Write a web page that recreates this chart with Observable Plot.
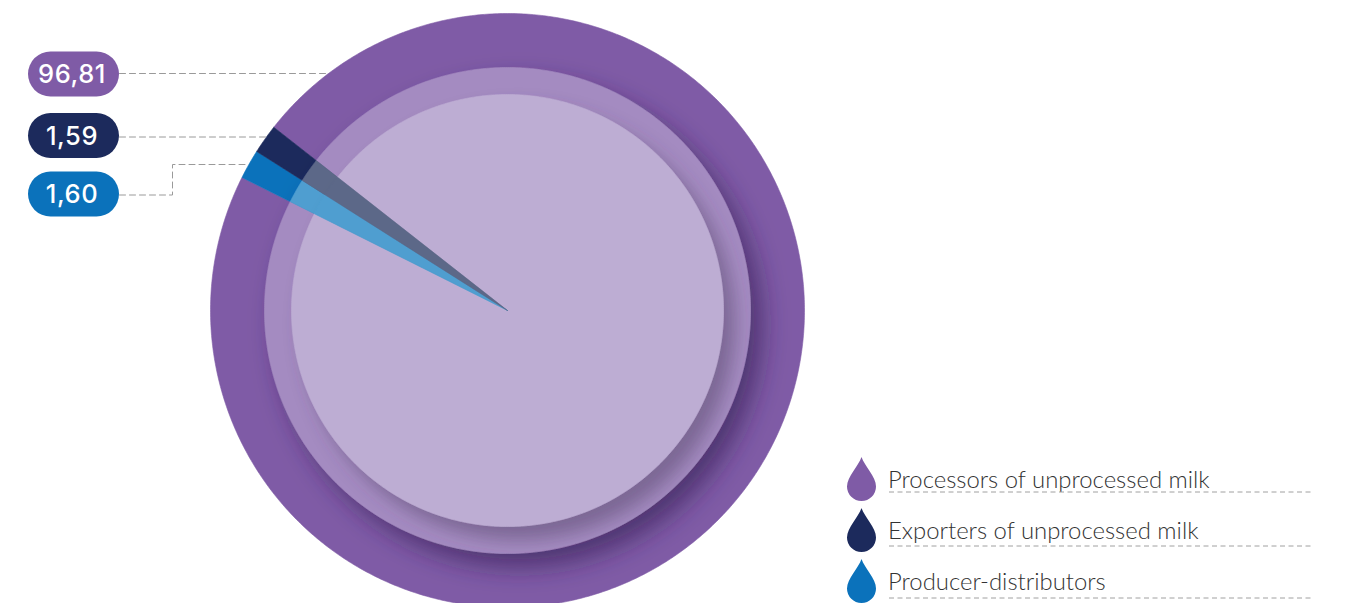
<!DOCTYPE html>
<html>
<head>
<meta charset="utf-8">
<script src="https://cdn.jsdelivr.net/npm/d3@7"></script>
<script src="https://cdn.jsdelivr.net/npm/@observablehq/plot@0.6"></script>
<style>
  html, body { margin: 0; padding: 0; background: #ffffff; }
  #wrap { position: relative; width: 1361px; height: 603px; overflow: hidden; background: #fff; }
  #wrap > svg { position: absolute; left: 0; top: 0; }
</style>
</head>
<body>
<div id="wrap"></div>
<script>
// ---------- data ----------
const categories = ["Processors of unprocessed milk", "Exporters of unprocessed milk", "Producer-distributors"];
const shares = [96.81, 1.59, 1.60];
const shareLabels = ["96,81", "1,59", "1,60"];
const baseColors = ["#7f5ba6", "#1c2a5c", "#0b72bb"];
const midColors = ["#a48bc1", "#5c6888", "#4f9ed0"];
const innerColors = ["#bdadd3", "#5c6888", "#4f9ed0"];
const clockwiseOrder = [0, 2, 1];

// ---------- layout ----------
const W = 1361, H = 603;
const cx = 507, cy = 310, R = 297;
const rMid = 243 / R, rInner = 216 / R;
const startDeg = 308.1;

const total = d3.sum(shares);
const slices = [];
{
  let a = startDeg;
  for (const i of clockwiseOrder) {
    const span = shares[i] / total * 360;
    slices.push({i, a0: a, a1: a + span});
    a += span;
  }
}
function slicePts(s, r) {
  const pts = [{x: 0, y: 0}];
  const n = Math.max(2, Math.ceil((s.a1 - s.a0) / 0.5));
  for (let k = 0; k <= n; k++) {
    const t = (s.a0 + (s.a1 - s.a0) * k / n) * Math.PI / 180;
    pts.push({x: r * Math.sin(t), y: r * Math.cos(t)});
  }
  pts.push({x: 0, y: 0});
  return pts;
}
function layerMarks(r, colors) {
  return slices.map(s => Plot.line(slicePts(s, r), {
    x: "x", y: "y", fill: colors[s.i], stroke: colors[s.i], strokeWidth: 0.6, curve: "linear"
  }));
}

// leader lines (pixel layout -> data coords)
const toX = px => (px - cx) / R, toY = py => (cy - py) / R;
const edgeX = py => -Math.sqrt(1 - toY(py) ** 2);
const badgeY = [74, 135.5, 194];
const leaderRaw = [
  [[119, 73], null],
  [[119, 136.5], null],
  [[119, 194.5], [172, 194.5], [172, 164], null]
];
const leaderPts = [];
leaderRaw.forEach((path, i) => {
  const lastY = path[path.length - 2][1];
  path.forEach(p => {
    if (p) leaderPts.push({key: i, x: toX(p[0]), y: toY(p[1])});
    else leaderPts.push({key: i, x: edgeX(lastY), y: toY(lastY)});
  });
});

const chart = Plot.plot({
  width: W, height: H,
  marginTop: 0, marginRight: 0, marginBottom: 0, marginLeft: 0,
  x: {domain: [toX(0), toX(W)], axis: null},
  y: {domain: [toY(H), toY(0)], axis: null},
  style: {background: "transparent", overflow: "hidden"},
  marks: [
    ...layerMarks(1, baseColors),
    ...layerMarks(rMid, midColors),
    ...layerMarks(rInner, innerColors),
    Plot.line(leaderPts, {x: "x", y: "y", z: "key", stroke: "#9a9a9a", strokeWidth: 1, strokeDasharray: "6,4"})
  ]
});

// drop shadows
const svg = d3.select(chart);
const defs = svg.insert("defs", ":first-child");
defs.append("filter").attr("id", "shMid").attr("x", "-30%").attr("y", "-30%").attr("width", "170%").attr("height", "170%")
  .append("feDropShadow").attr("dx", 12).attr("dy", 14).attr("stdDeviation", 12)
  .attr("flood-color", "#321a52").attr("flood-opacity", 0.6);
defs.append("filter").attr("id", "shInner").attr("x", "-30%").attr("y", "-30%").attr("width", "170%").attr("height", "170%")
  .append("feDropShadow").attr("dx", 11).attr("dy", 13).attr("stdDeviation", 9)
  .attr("flood-color", "#4a3a5e").attr("flood-opacity", 0.45);
const lineGroups = svg.selectAll('g[aria-label="line"]').nodes();
function wrapLayer(nodes, filterId) {
  if (!nodes.length) return;
  const g = document.createElementNS("http://www.w3.org/2000/svg", "g");
  g.setAttribute("filter", `url(#${filterId})`);
  nodes[0].parentNode.insertBefore(g, nodes[0]);
  nodes.forEach(n => g.appendChild(n));
}
const n = slices.length;
wrapLayer(lineGroups.slice(n, 2 * n), "shMid");
wrapLayer(lineGroups.slice(2 * n, 3 * n), "shInner");

const wrap = document.getElementById("wrap");
wrap.appendChild(chart);

// ---------- overlay: badges + legend ----------
const ov = d3.select(wrap).append("svg").attr("width", W).attr("height", H);
shareLabels.forEach((lab, i) => {
  const y = badgeY[i];
  ov.append("rect").attr("x", 28).attr("y", y - 22.5).attr("width", 91).attr("height", 45)
    .attr("rx", 22.5).attr("fill", baseColors[i]);
  ov.append("text").attr("x", 72).attr("y", y).attr("dy", "0.36em")
    .attr("text-anchor", "middle").attr("fill", "#fff")
    .attr("font-family", "Inter, 'Open Sans', sans-serif").attr("font-weight", 500).attr("font-size", 25.5)
    .attr("letter-spacing", 0.6)
    .text(lab);
});

const legendTop = [457, 508, 559];
const legendBase = [488, 539, 590];
const legendRule = [492, 546, 598];
function dropPath(x0, y0, w, h) {
  const m = x0 + w / 2, cyb = y0 + h - w / 2;
  return `M${m},${y0} C${m + 3},${y0 + 9} ${x0 + w},${y0 + h * 0.45} ${x0 + w},${cyb} A${w / 2},${w / 2} 0 0 1 ${x0},${cyb} C${x0},${y0 + h * 0.45} ${m - 3},${y0 + 9} ${m},${y0} Z`;
}
categories.forEach((cat, i) => {
  ov.append("path").attr("d", dropPath(847, legendTop[i], 29, 44)).attr("fill", baseColors[i]);
  ov.append("text").attr("x", 888).attr("y", legendBase[i])
    .attr("font-family", "Lato, 'Open Sans', sans-serif").attr("font-weight", 300).attr("font-size", 23.9)
    .attr("fill", "#333333").text(cat);
  ov.append("line").attr("x1", 889).attr("x2", 1313).attr("y1", legendRule[i]).attr("y2", legendRule[i])
    .attr("stroke", "#a0a0a0").attr("stroke-width", 1).attr("stroke-dasharray", "5,3.5");
});
</script>
</body>
</html>
